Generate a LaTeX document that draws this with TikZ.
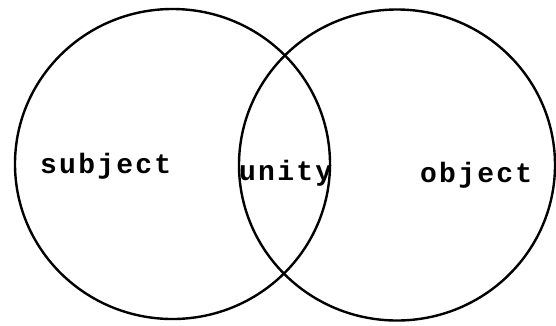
\documentclass[tikz,border=0pt]{standalone}
\usepackage{fontspec}
\usetikzlibrary{shapes.geometric}
\newfontfamily\labelfont[LetterSpace=8]{Liberation Mono}
\begin{document}
\begin{tikzpicture}[x=1pt,y=-1pt,
  ring/.style={ellipse,draw=black,line width=2.4pt,inner sep=0pt},
  lbl/.style={anchor=base west,inner sep=0pt,font=\labelfont\bfseries\fontsize{28}{30}\selectfont}]
\useasboundingbox (0,0) rectangle (556,325);
\node[ring,minimum width=315pt,minimum height=310pt] (left) at (172.5,164) {};
\node[ring,minimum width=316pt,minimum height=311pt] (right) at (397,165) {};
\node[lbl] (subject) at (40,173) {subject};
\node[lbl] (unity) at (239,180) {unity};
\node[lbl] (object) at (420,182) {object};
\end{tikzpicture}
\end{document}
